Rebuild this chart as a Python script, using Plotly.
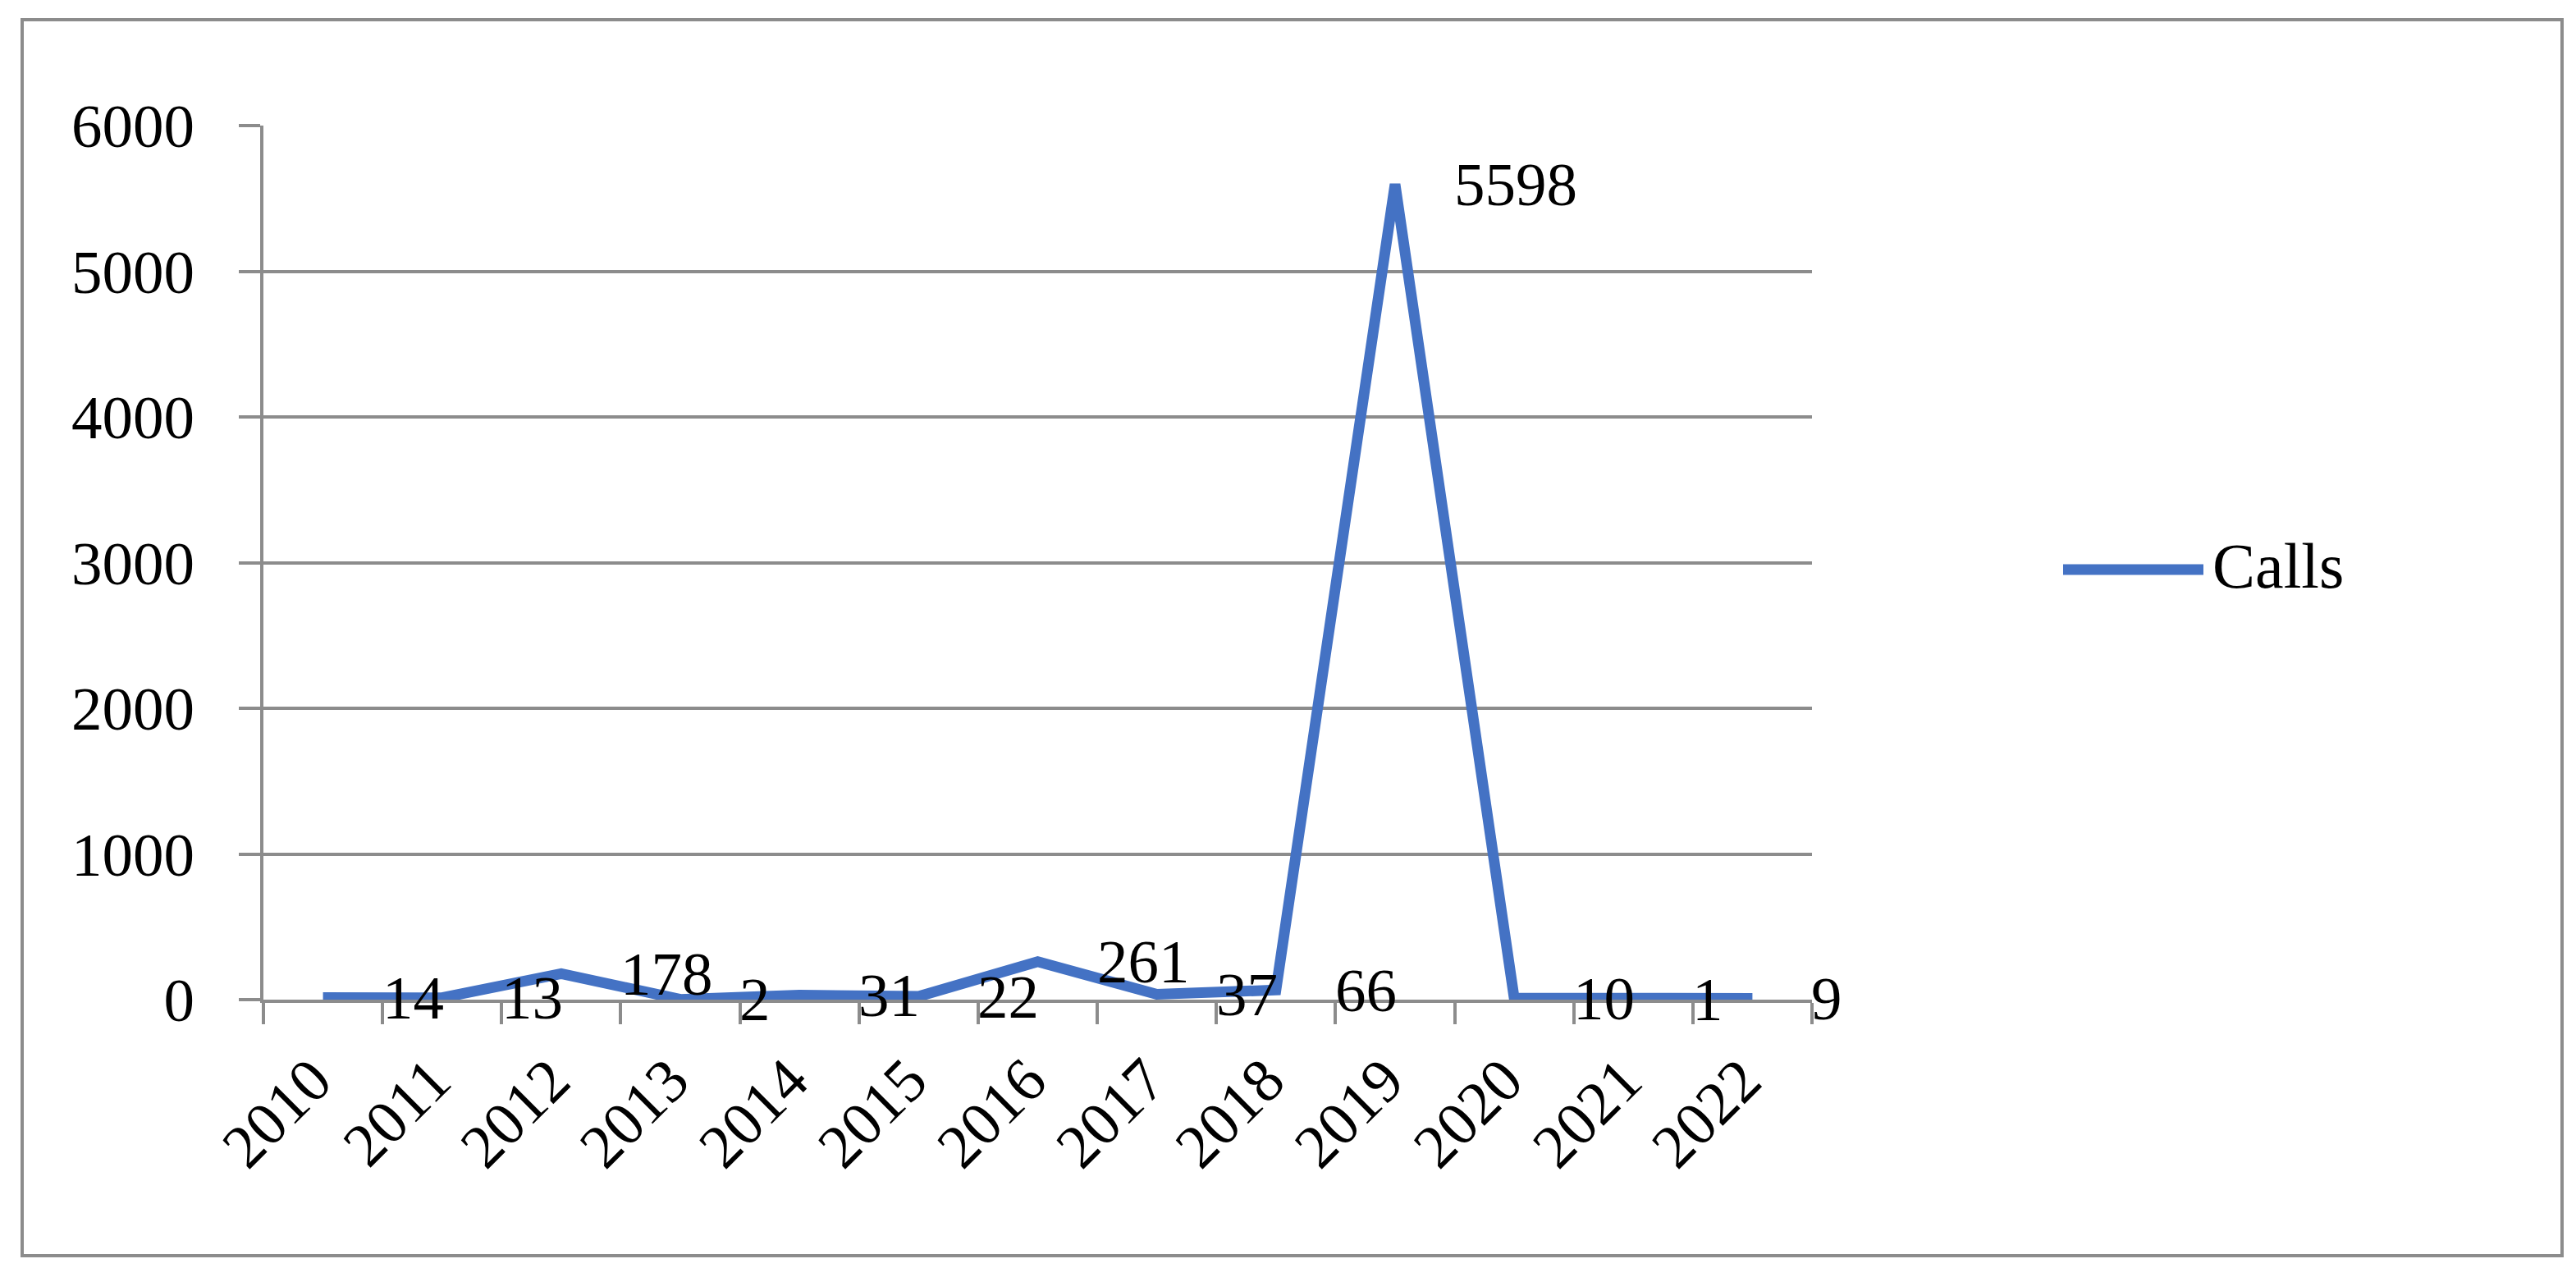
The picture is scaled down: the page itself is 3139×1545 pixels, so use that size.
import plotly.graph_objects as go

years = ["2010", "2011", "2012", "2013", "2014", "2015", "2016",
         "2017", "2018", "2019", "2020", "2021", "2022"]
calls = [14, 13, 178, 2, 31, 22, 261, 37, 66, 5598, 10, 1, 9]
series_name = "Calls"
y_ticks = [0, 1000, 2000, 3000, 4000, 5000, 6000]

W, H = 3139, 1545
L, R, T, B = 313, 2200, 145, 1210   # plot area in px
FONT = "Liberation Serif"
FS = 75
GRAY = "#8C8C8C"
BLUE = "#4472C4"

def px_x(p):
    return (p - L) / (R - L)

def px_y(p):
    return (B - p) / (B - T)

fig = go.Figure()
fig.add_trace(go.Scatter(
    x=years, y=calls, mode="lines", name=series_name,
    line=dict(color=BLUE, width=13), showlegend=False,
    hoverinfo="x+y",
))

# data labels to the right of each point (category axis -> index positions)
for i, v in enumerate(calls):
    fig.add_annotation(x=i, y=v, xref="x", yref="y", text=str(v),
                       showarrow=False, xanchor="left", yanchor="middle",
                       xshift=70, font=dict(family=FONT, size=FS, color="black"))

# outer chart border
fig.add_shape(type="rect", xref="paper", yref="paper",
              x0=px_x(19), x1=px_x(3114), y0=px_y(1522), y1=px_y(16),
              line=dict(color=GRAY, width=4), layer="below")

# legend (drawn manually for the long line sample)
fig.add_shape(type="line", xref="paper", yref="paper",
              x0=px_x(2506), x1=px_x(2677), y0=px_y(686), y1=px_y(686),
              line=dict(color=BLUE, width=13))
fig.add_annotation(xref="paper", yref="paper", x=px_x(2686), y=px_y(681),
                   text=series_name, showarrow=False, xanchor="left",
                   yanchor="middle",
                   font=dict(family=FONT, size=FS + 3, color="black"))

fig.update_layout(
    width=W, height=H,
    margin=dict(l=L, r=W - R, t=T, b=H - B, pad=0),
    paper_bgcolor="white", plot_bgcolor="white",
    font=dict(family=FONT, size=FS, color="black"),
    showlegend=False,
)
fig.update_xaxes(
    type="category", range=[-0.5, len(years) - 0.5],
    tickson="boundaries", ticks="outside", ticklen=26, tickwidth=4,
    tickcolor=GRAY, showgrid=False, showline=True, linecolor=GRAY,
    linewidth=4, tickangle=-45, zeroline=False, ticklabelstandoff=20,
    ticklabelshift=-12,
    tickfont=dict(family=FONT, size=FS, color="black"),
)
fig.update_yaxes(
    range=[0, 6000], tickvals=y_ticks, ticks="outside", ticklen=26,
    tickwidth=4, tickcolor=GRAY, showgrid=True, gridcolor=GRAY,
    gridwidth=4, showline=True, linecolor=GRAY, linewidth=4,
    zeroline=False, ticklabelstandoff=39,
    tickfont=dict(family=FONT, size=FS, color="black"),
)

fig.write_html("out.html")
